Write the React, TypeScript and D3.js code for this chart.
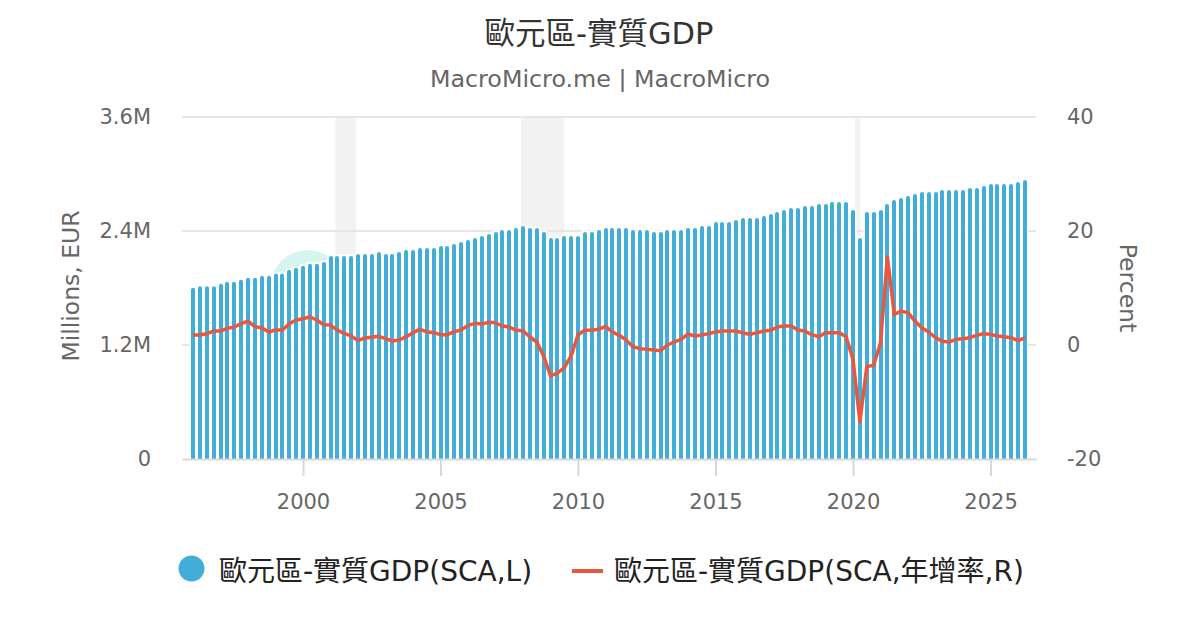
import { useEffect, useRef } from "react"
import * as d3 from "d3"

// quarterly, first point = 1996 Q1
const firstYear = 1996

// real GDP, millions EUR (SCA)
const gdp1990s = [
  1802000, 1819000, 1819000, 1819000, 1844000, 1865000, 1865000, 1886000,
  1907000, 1907000, 1928000, 1928000, 1952000, 1952000, 1991000, 2012000,
]
const gdp2000s = [
  2033000, 2054000, 2054000, 2075000, 2138000, 2138000, 2138000, 2138000,
  2159000, 2159000, 2159000, 2180000, 2159000, 2159000, 2180000, 2201000,
  2201000, 2222000, 2222000, 2222000, 2243000, 2243000, 2264000, 2285000,
  2306000, 2327000, 2348000, 2369000, 2390000, 2411000, 2411000, 2432000,
  2453000, 2432000, 2432000, 2390000, 2327000, 2327000, 2348000, 2348000,
]
const gdp2010s = [
  2348000, 2390000, 2390000, 2411000, 2432000, 2432000, 2432000, 2432000,
  2411000, 2411000, 2411000, 2390000, 2390000, 2411000, 2411000, 2411000,
  2432000, 2432000, 2453000, 2453000, 2495000, 2495000, 2495000, 2516000,
  2537000, 2537000, 2537000, 2558000, 2579000, 2600000, 2621000, 2642000,
  2642000, 2663000, 2663000, 2684000, 2684000, 2705000, 2705000, 2705000,
]
const gdp2020s = [
  2621000, 2327000, 2600000, 2600000, 2621000, 2684000, 2726000, 2747000,
  2768000, 2789000, 2810000, 2810000, 2810000, 2831000, 2831000, 2831000,
  2831000, 2852000, 2852000, 2873000, 2894000, 2894000, 2894000, 2894000,
  2915000, 2936000,
]

// year-over-year growth, percent
const yoy1990s = [
  1.76, 1.76, 1.99, 2.45, 2.45, 2.92, 3.15, 3.74,
  4.2, 3.21, 3.04, 2.28, 2.63, 2.63, 3.74, 4.38,
]
const yoy2000s = [
  4.61, 4.96, 4.38, 3.56, 3.5, 2.57, 2.05, 1.58,
  0.76, 1.23, 1.35, 1.52, 1.11, 0.7, 0.88, 1.46,
  2.16, 2.75, 2.34, 2.16, 1.81, 1.81, 2.34, 2.63,
  3.45, 3.8, 3.68, 3.97, 3.91, 3.33, 3.15, 2.57,
  2.51, 1.4, 0.53, -1.92, -5.42, -4.95, -4.02, -1.92,
]
const yoy2010s = [
  1.81, 2.57, 2.57, 2.75, 3.27, 2.28, 1.7, 0.88,
  -0.29, -0.64, -0.75, -0.87, -0.99, 0.0, 0.53, 1.0,
  1.93, 1.58, 1.75, 1.99, 2.28, 2.45, 2.45, 2.45,
  2.1, 1.87, 2.16, 2.45, 2.57, 3.15, 3.33, 3.33,
  2.63, 2.45, 1.81, 1.46, 2.16, 2.16, 2.16, 1.46,
]
const yoy2020s = [
  -2.5, -13.46, -3.79, -3.55, 0.41, 15.46, 5.37, 5.95,
  5.66, 4.2, 3.04, 2.28, 1.29, 0.65, 0.53, 1.0,
  1.11, 1.29, 1.7, 1.99, 1.87, 1.58, 1.46, 1.29,
  0.76, 1.23,
]

// recession bands, decimal years
const recessions = [
  [2001.17, 2001.93],
  [2007.93, 2009.5],
  [2020.07, 2020.27],
]

const xTicks = [2000, 2005, 2010, 2015, 2020, 2025]
const leftTicks = [0, 1200000, 2400000, 3600000]
const rightTicks = [-20, 0, 20, 40]

const title = "歐元區-實質GDP"
const subtitle = "MacroMicro.me | MacroMicro"
const barName = "歐元區-實質GDP(SCA,L)"
const lineName = "歐元區-實質GDP(SCA,年增率,R)"

const FONT = "'DejaVu Sans', 'Noto Sans CJK TC', sans-serif"
const BLUE = "#40aed9"
const RED = "#e8573e"

function roundedTop(l: number, t: number, w: number, b: number, r: number) {
  return `M${l},${b}V${t + r}A${r},${r} 0 0 1 ${l + r},${t}H${l + w - r}A${r},${r} 0 0 1 ${l + w},${t + r}V${b}Z`
}

export default function App() {
  const svgRef = useRef<SVGSVGElement>(null)

  useEffect(() => {
    const svg = d3.select(svgRef.current)
    svg.selectAll("*").remove()

    const gdp = [...gdp1990s, ...gdp2000s, ...gdp2010s, ...gdp2020s]
    const yoy = [...yoy1990s, ...yoy2000s, ...yoy2010s, ...yoy2020s]
    const dates = gdp.map((_, i) => firstYear + i / 4)

    const left = 182
    const right = 1036
    const top = 117
    const bottom = 459

    const x = d3.scaleLinear().domain([1995.6, 2026.654]).range([left, right])
    const yL = d3.scaleLinear().domain([0, 3600000]).range([bottom, top])
    const yR = d3.scaleLinear().domain([-20, 40]).range([bottom, top])
    const step = x(2000.25) - x(2000)

    const defs = svg.append("defs")
    const pat = defs
      .append("pattern")
      .attr("id", "dots")
      .attr("width", 4)
      .attr("height", 4)
      .attr("patternUnits", "userSpaceOnUse")
    pat.append("rect").attr("width", 4).attr("height", 4).attr("fill", "#f3f3f3")
    pat.append("rect").attr("x", 1).attr("y", 1).attr("width", 1).attr("height", 1).attr("fill", "#e8e8e8")

    // title
    svg.append("text")
      .attr("x", 599).attr("y", 44)
      .attr("text-anchor", "middle")
      .attr("font-family", FONT).attr("font-size", 30.5).attr("fill", "#333")
      .text(title)
    svg.append("text")
      .attr("x", 600).attr("y", 87)
      .attr("text-anchor", "middle")
      .attr("font-family", FONT).attr("font-size", 23.8).attr("fill", "#666")
      .text(subtitle)

    // recession bands
    svg.append("g")
      .selectAll("rect")
      .data(recessions)
      .join("rect")
      .attr("x", (d) => x(d[0]))
      .attr("width", (d) => x(d[1]) - x(d[0]))
      .attr("y", top)
      .attr("height", bottom - top)
      .attr("fill", "url(#dots)")

    // grid
    svg.append("g")
      .selectAll("line")
      .data(leftTicks.filter((t) => t > 0))
      .join("line")
      .attr("x1", left).attr("x2", right)
      .attr("y1", (d) => yL(d)).attr("y2", (d) => yL(d))
      .attr("stroke", "#e6e6e6").attr("stroke-width", 2)

    // faint watermark halo
    svg.append("circle")
      .attr("cx", 308).attr("cy", 288).attr("r", 38)
      .attr("fill", "#d6f5ee")

    // bars: white backing then blue column
    const bars = svg.append("g")
    bars.selectAll("rect")
      .data(gdp)
      .join("rect")
      .attr("x", (_, i) => x(dates[i]) - step / 2)
      .attr("width", step)
      .attr("y", (d) => yL(d) - 1.5)
      .attr("height", (d) => bottom - yL(d) + 1.5)
      .attr("fill", "#fff")
    bars.selectAll("path")
      .data(gdp)
      .join("path")
      .attr("d", (d, i) => roundedTop(Math.round(x(dates[i]) - 2), yL(d), 4, bottom, 2))
      .attr("fill", BLUE)

    // axes
    const xAxis = svg.append("g")
      .attr("transform", `translate(0,${bottom})`)
      .call(
        d3.axisBottom(x)
          .tickValues(xTicks)
          .tickFormat(d3.format("d"))
          .tickSize(17)
          .tickSizeOuter(0)
          .tickPadding(18),
      )
    xAxis.select(".domain").attr("stroke", "#d8d8d8").attr("stroke-width", 2)
    xAxis.selectAll(".tick line").attr("stroke", "#d8d8d8").attr("stroke-width", 2)

    const yAxisL = svg.append("g")
      .attr("transform", `translate(${left},0)`)
      .call(
        d3.axisLeft(yL)
          .tickValues(leftTicks)
          .tickFormat((v) => (+v === 0 ? "0" : `${+v / 1e6}M`))
          .tickSize(0)
          .tickPadding(31),
      )
    yAxisL.select(".domain").remove()

    const yAxisR = svg.append("g")
      .attr("transform", `translate(${right},0)`)
      .call(
        d3.axisRight(yR)
          .tickValues(rightTicks)
          .tickFormat((v) => String(v))
          .tickSize(0)
          .tickPadding(31),
      )
    yAxisR.select(".domain").remove()

    svg.selectAll(".tick text")
      .attr("font-family", FONT)
      .attr("font-size", 21)
      .attr("fill", "#666")

    svg.append("text")
      .attr("transform", "translate(79,286) rotate(-90)")
      .attr("text-anchor", "middle")
      .attr("font-family", FONT).attr("font-size", 23.5).attr("fill", "#666")
      .text("Millions, EUR")
    svg.append("text")
      .attr("transform", "translate(1120,288) rotate(90)")
      .attr("text-anchor", "middle")
      .attr("font-family", FONT).attr("font-size", 23.5).attr("fill", "#666")
      .text("Percent")

    // growth line
    const line = d3.line<number>()
      .x((_, i) => x(dates[i]))
      .y((d) => yR(d))
    svg.append("path")
      .datum(yoy)
      .attr("d", line)
      .attr("fill", "none")
      .attr("stroke", RED)
      .attr("stroke-width", 3.5)
      .attr("stroke-linejoin", "round")

    // legend
    const legend = svg.append("g").attr("font-family", FONT).attr("font-size", 28).attr("fill", "#222")
    legend.append("circle").attr("cx", 191.5).attr("cy", 568.5).attr("r", 13).attr("fill", BLUE)
    legend.append("text").attr("x", 219).attr("y", 581).text(barName)
    legend.append("line")
      .attr("x1", 572).attr("x2", 603).attr("y1", 571).attr("y2", 571)
      .attr("stroke", RED).attr("stroke-width", 4)
    legend.append("text").attr("x", 614).attr("y", 581).text(lineName)
  }, [])

  return (
    <div style={{ position: "absolute", left: 0, top: 0 }}>
      <svg ref={svgRef} width={1200} height={630} style={{ display: "block", background: "#fff" }} />
    </div>
  )
}
